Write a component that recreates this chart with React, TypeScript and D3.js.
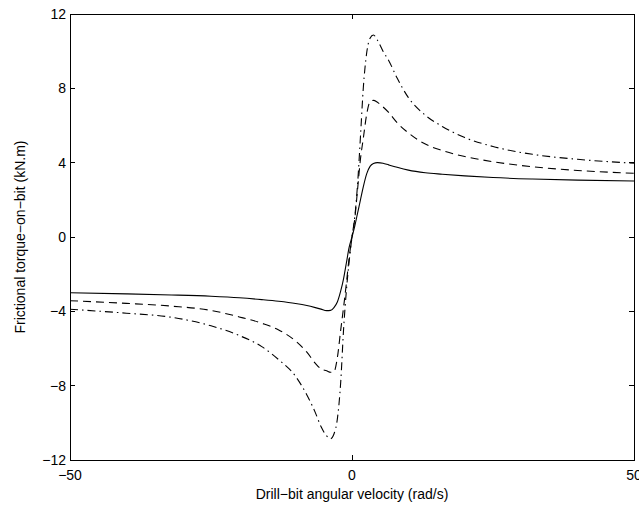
import React from "react";
import * as d3 from "d3";

// Drill-bit angular velocity samples (rad/s)
const omega = [
  -50, -40, -32, -25, -20, -16, -13, -10, -8, -6.5, -5.5, -4.5, -3.8, -3.2, -2.6, -2, -1.5, -1, -0.5,
  0,
  0.5, 1, 1.5, 2, 2.6, 3.2, 3.8, 4.5, 5.5, 6.5, 8, 10, 13, 16, 20, 25, 32, 40, 50,
];

// Frictional torque-on-bit (kN.m) for three friction settings
const torqueSolid = [
  -3.0, -3.06, -3.12, -3.19, -3.27, -3.37, -3.46, -3.58, -3.69, -3.8, -3.88, -3.96, -3.95, -3.8, -3.5, -2.9, -2.25, -1.4, -0.55,
  0,
  0.6, 1.3, 2.0, 2.7, 3.4, 3.8, 3.95, 4.0, 3.97, 3.88, 3.75, 3.6, 3.46, 3.38, 3.29, 3.2, 3.12, 3.06, 3.01,
];
const torqueDashed = [
  -3.43, -3.57, -3.72, -3.95, -4.3, -4.64, -5.0, -5.6, -6.2, -6.8, -7.1, -7.2, -7.28, -7.25, -6.5, -5.0, -3.8, -2.5, -1.1,
  0,
  1.0, 2.6, 4.2, 5.3, 6.6, 7.28, 7.35, 7.25, 7.0, 6.7, 6.15, 5.6, 5.0, 4.65, 4.33, 4.05, 3.78, 3.58, 3.43,
];
const torqueDashDot = [
  -3.89, -4.1, -4.32, -4.78, -5.3, -5.9, -6.6, -7.5, -8.5, -9.45, -10.2, -10.7, -10.85, -10.6, -9.8, -7.8, -5.0, -2.9, -1.3,
  0,
  1.1, 2.9, 5.4, 8.0, 9.9, 10.7, 10.87, 10.6, 10.0, 9.5, 8.55, 7.5, 6.55, 5.95, 5.35, 4.87, 4.45, 4.18, 3.97,
];

const xTicks = [-50, 0, 50];
const yTicks = [-12, -8, -4, 0, 4, 8, 12];

const W = 639;
const H = 506;
const M = { left: 70, right: 634, top: 14, bottom: 460 };
const FONT = "'Liberation Sans', Arial, Helvetica, sans-serif";

const fmt = (v: number) => (v < 0 ? "\u2212" + Math.abs(v) : String(v));

export default function App() {
  const x = d3.scaleLinear().domain([-50, 50]).range([M.left, M.right]);
  const y = d3.scaleLinear().domain([-12, 12]).range([M.bottom, M.top]);

  const line = d3
    .line<number>()
    .x((_, i) => x(omega[i]))
    .y((d) => y(d))
    .curve(d3.curveMonotoneX);

  const series = [
    { values: torqueSolid, dash: undefined as string | undefined },
    { values: torqueDashed, dash: "8,5" },
    { values: torqueDashDot, dash: "8,4,1.5,4" },
  ];

  const tickLen = 5;

  return (
    <svg
      width={W}
      height={H}
      style={{ position: "fixed", left: 0, top: 0, background: "#fff" }}
      fontFamily={FONT}
    >
      <rect x={0} y={0} width={W} height={H} fill="#fff" />
      {series.map((s, k) => (
        <path
          key={k}
          d={line(s.values) ?? ""}
          fill="none"
          stroke="#000"
          strokeWidth={1.1}
          strokeDasharray={s.dash}
        />
      ))}
      {/* axes box */}
      <rect
        x={M.left}
        y={M.top}
        width={M.right - M.left}
        height={M.bottom - M.top}
        fill="none"
        stroke="#000"
        strokeWidth={1}
        shapeRendering="crispEdges"
      />
      {yTicks.map((t) => (
        <g key={"y" + t} shapeRendering="crispEdges">
          <line x1={M.left} x2={M.left + tickLen} y1={y(t)} y2={y(t)} stroke="#000" />
          <line x1={M.right} x2={M.right - tickLen} y1={y(t)} y2={y(t)} stroke="#000" />
          <text
            x={M.left - 4}
            y={y(t)}
            textAnchor="end"
            dominantBaseline="central"
            fontSize={14}
            fill="#000"
          >
            {fmt(t)}
          </text>
        </g>
      ))}
      {xTicks.map((t) => (
        <g key={"x" + t} shapeRendering="crispEdges">
          <line x1={x(t)} x2={x(t)} y1={M.bottom} y2={M.bottom - tickLen} stroke="#000" />
          <line x1={x(t)} x2={x(t)} y1={M.top} y2={M.top + tickLen} stroke="#000" />
          <text x={x(t)} y={480} textAnchor="middle" fontSize={14} fill="#000">
            {fmt(t)}
          </text>
        </g>
      ))}
      <text x={(M.left + M.right) / 2} y={499} textAnchor="middle" fontSize={14} fill="#000">
        Drill{"\u2212"}bit angular velocity (rad/s)
      </text>
      <text
        transform={`translate(25, ${(M.top + M.bottom) / 2}) rotate(-90)`}
        textAnchor="middle"
        fontSize={14}
        fill="#000"
      >
        Frictional torque{"\u2212"}on{"\u2212"}bit (kN.m)
      </text>
    </svg>
  );
}
